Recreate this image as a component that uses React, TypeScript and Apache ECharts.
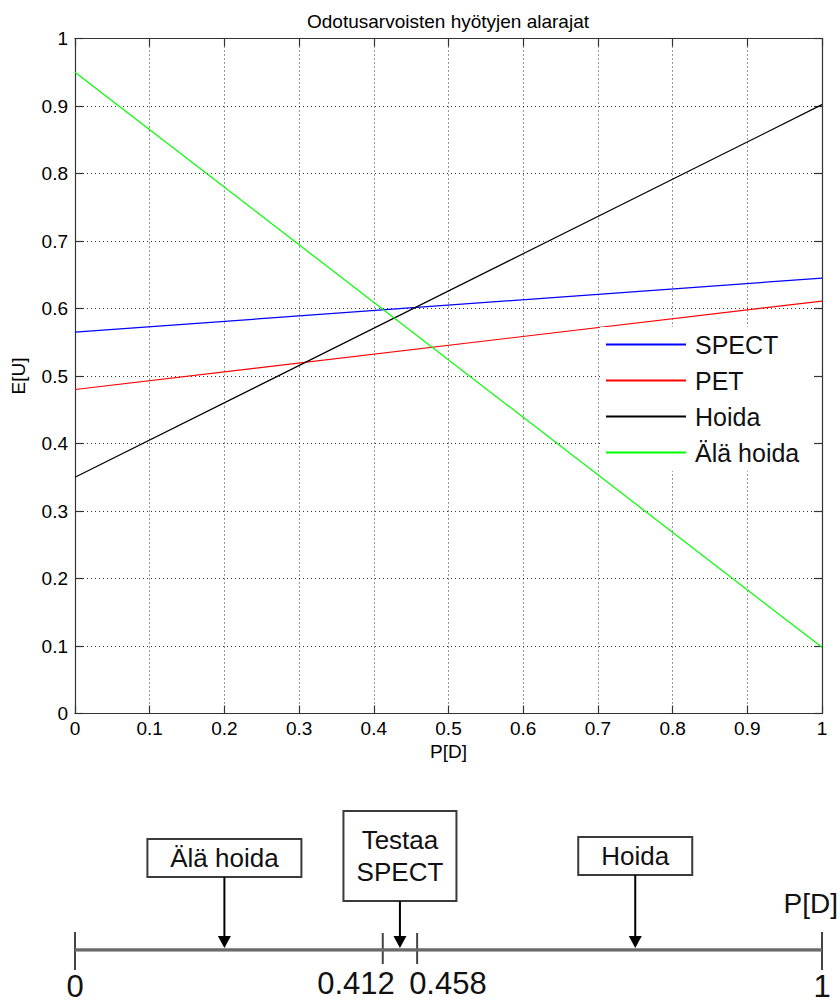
import React, { useEffect, useRef } from "react";
import * as echarts from "echarts";

// ---- data ----
const pD = [0, 1];
const spect = [0.565, 0.645];
const pet = [0.48, 0.611];
const hoida = [0.35, 0.902];
const alaHoida = [0.95, 0.098];
const seriesNames = ["SPECT", "PET", "Hoida", "Älä hoida"];
const seriesColors = ["#0000ff", "#ff0000", "#000000", "#00ff00"];

const titleText = "Odotusarvoisten hyötyjen alarajat";
const xName = "P[D]";
const yName = "E[U]";

// number line below the chart
const lineEnds = [0, 1];
const lineTicks = [0, 0.412, 0.458, 1];
const lineTickLabels = ["0", "0.412", "0.458", "1"];
const decisions = ["Älä hoida", "Testaa\nSPECT", "Hoida"];
const decisionAt = [0.2, 0.435, 0.75];

// ---- styling for number line (positions/sizes kept apart from data) ----
const tickLabelStyle = [
  { align: "center", dx: 0, dy: 52, va: "bottom" },
  { align: "right", dx: 12, dy: 33, va: "middle" },
  { align: "left", dx: -8, dy: 33, va: "middle" },
  { align: "center", dx: 0, dy: 52, va: "bottom" },
];
const tickExtent = [
  [18, 20],
  [17, 14],
  [17, 14],
  [18, 20],
];
const boxStyle = [
  { w: 154, h: 38, gap: 73 },
  { w: 113, h: 90, gap: 49 },
  { w: 114, h: 38, gap: 75 },
];

const FONT = "'Liberation Sans', Arial, Helvetica, sans-serif";

export default function App() {
  const ref = useRef<HTMLDivElement>(null);

  useEffect(() => {
    if (!ref.current) return;
    const chart = echarts.init(ref.current, undefined, { renderer: "svg" });

    const lineSeries = [spect, pet, hoida, alaHoida].map((vals, i) => ({
      name: seriesNames[i],
      type: "line",
      xAxisIndex: 0,
      yAxisIndex: 0,
      data: pD.map((x, j) => [x, vals[j]]),
      showSymbol: false,
      symbol: "none",
      color: seriesColors[i],
      lineStyle: { width: 1.2, color: seriesColors[i] },
      silent: true,
      z: 3,
    }));

    const axisLineStyle = { color: "#333", width: 1.2 };

    const option: any = {
      animation: false,
      backgroundColor: "#fff",
      title: {
        text: titleText,
        left: 448,
        top: 12,
        textAlign: "center",
        padding: 0,
        textStyle: { fontSize: 19, fontWeight: "normal", color: "#000", fontFamily: FONT },
      },
      legend: {
        data: seriesNames,
        orient: "vertical",
        left: 600,
        top: 327,
        itemWidth: 80,
        itemHeight: 2,
        itemGap: 11,
        icon: "rect",
        backgroundColor: "#fff",
        padding: [5, 14, 6, 6],
        selectedMode: false,
        textStyle: {
          fontSize: 25,
          lineHeight: 25,
          color: "#111",
          fontFamily: FONT,
          padding: [0, 0, 0, 4],
        },
      },
      grid: [
        { left: 75, right: 18, top: 38.5, bottom: 1008 - 713.5, containLabel: false },
        { left: 75, right: 18, top: 800, bottom: 1008 - 950, containLabel: false },
      ],
      xAxis: [
        {
          type: "value",
          gridIndex: 0,
          position: "bottom",
          min: 0,
          max: 1,
          interval: 0.1,
          name: xName,
          nameLocation: "middle",
          nameGap: 24,
          nameTextStyle: { fontSize: 19, color: "#000", fontFamily: FONT },
          axisLine: { show: true, onZero: false, lineStyle: axisLineStyle },
          axisTick: { show: true, inside: true, length: 8, lineStyle: axisLineStyle },
          axisLabel: { fontSize: 19, color: "#000", margin: 5, fontFamily: FONT },
          splitLine: { show: true, lineStyle: { type: [1, 3], color: "#333", width: 1 } },
        },
        {
          type: "value",
          gridIndex: 0,
          position: "top",
          min: 0,
          max: 1,
          interval: 0.1,
          axisLine: { show: true, onZero: false, lineStyle: axisLineStyle },
          axisTick: { show: true, inside: true, length: 8, lineStyle: axisLineStyle },
          axisLabel: { show: false },
          splitLine: { show: false },
        },
        {
          type: "value",
          gridIndex: 1,
          min: 0,
          max: 1,
          show: false,
        },
      ],
      yAxis: [
        {
          type: "value",
          gridIndex: 0,
          position: "left",
          min: 0,
          max: 1,
          interval: 0.1,
          name: yName,
          nameLocation: "middle",
          nameGap: 47,
          nameTextStyle: { fontSize: 19, color: "#000", fontFamily: FONT },
          axisLine: { show: true, onZero: false, lineStyle: axisLineStyle },
          axisTick: { show: true, inside: true, length: 8, lineStyle: axisLineStyle },
          axisLabel: { fontSize: 19, color: "#000", margin: 7, fontFamily: FONT },
          splitLine: { show: true, lineStyle: { type: [1, 3], color: "#333", width: 1 } },
        },
        {
          type: "value",
          gridIndex: 0,
          position: "right",
          min: 0,
          max: 1,
          interval: 0.1,
          axisLine: { show: true, onZero: false, lineStyle: axisLineStyle },
          axisTick: { show: true, inside: true, length: 8, lineStyle: axisLineStyle },
          axisLabel: { show: false },
          splitLine: { show: false },
        },
        {
          type: "value",
          gridIndex: 1,
          min: 0,
          max: 1,
          show: false,
        },
      ],
      graphic: [
        {
          type: "text",
          x: 838,
          y: 903,
          style: {
            text: xName,
            fill: "#111",
            fontSize: 28,
            fontFamily: FONT,
            align: "right",
            verticalAlign: "middle",
          },
        },
      ],
      series: [
        ...lineSeries,
        {
          name: "numberline",
          type: "line",
          xAxisIndex: 2,
          yAxisIndex: 2,
          data: lineEnds.map((x) => [x, 0]),
          showSymbol: false,
          symbol: "none",
          color: "#666",
          lineStyle: { width: 3.5, color: "#6a6a6a" },
          silent: true,
        },
        {
          name: "ticks",
          type: "custom",
          xAxisIndex: 2,
          yAxisIndex: 2,
          silent: true,
          data: lineTicks.map((v, i) => [v, i]),
          renderItem: (params: any, api: any) => {
            const v = api.value(0);
            const i = api.value(1);
            const [x, y] = api.coord([v, 0]);
            const ext = tickExtent[i];
            const ls = tickLabelStyle[i];
            return {
              type: "group",
              children: [
                {
                  type: "line",
                  shape: { x1: x, y1: y - ext[0], x2: x, y2: y + ext[1] },
                  style: { stroke: "#444", lineWidth: 2 },
                },
                {
                  type: "text",
                  x: x + ls.dx,
                  y: y + ls.dy,
                  style: {
                    text: lineTickLabels[i],
                    fill: "#111",
                    fontSize: 31,
                    fontFamily: FONT,
                    align: ls.align,
                    verticalAlign: ls.va,
                  },
                },
              ],
            };
          },
        },
        {
          name: "decisions",
          type: "custom",
          xAxisIndex: 2,
          yAxisIndex: 2,
          silent: true,
          data: decisionAt.map((v, i) => [v, i]),
          renderItem: (params: any, api: any) => {
            const v = api.value(0);
            const i = api.value(1);
            const [x, y] = api.coord([v, 0]);
            const b = boxStyle[i];
            const boxBottom = y - b.gap;
            const boxTop = boxBottom - b.h;
            const tipY = y - 2;
            const headH = 12;
            const headW = 6.5;
            return {
              type: "group",
              children: [
                {
                  type: "rect",
                  shape: { x: x - b.w / 2, y: boxTop, width: b.w, height: b.h },
                  style: { fill: "#fff", stroke: "#3a3a3a", lineWidth: 2 },
                },
                {
                  type: "text",
                  x: x,
                  y: boxTop + b.h / 2,
                  style: {
                    text: decisions[i],
                    fill: "#111",
                    fontSize: 26,
                    lineHeight: 32,
                    fontFamily: FONT,
                    align: "center",
                    verticalAlign: "middle",
                  },
                },
                {
                  type: "line",
                  shape: { x1: x, y1: boxBottom, x2: x, y2: tipY - headH + 1 },
                  style: { stroke: "#000", lineWidth: 2 },
                },
                {
                  type: "polygon",
                  shape: {
                    points: [
                      [x - headW, tipY - headH],
                      [x + headW, tipY - headH],
                      [x, tipY],
                    ],
                  },
                  style: { fill: "#000" },
                },
              ],
            };
          },
        },
      ],
    };

    chart.setOption(option);
    return () => chart.dispose();
  }, []);

  return (
    <div
      ref={ref}
      style={{ position: "absolute", left: 0, top: 0, width: 840, height: 1008, background: "#fff" }}
    />
  );
}
